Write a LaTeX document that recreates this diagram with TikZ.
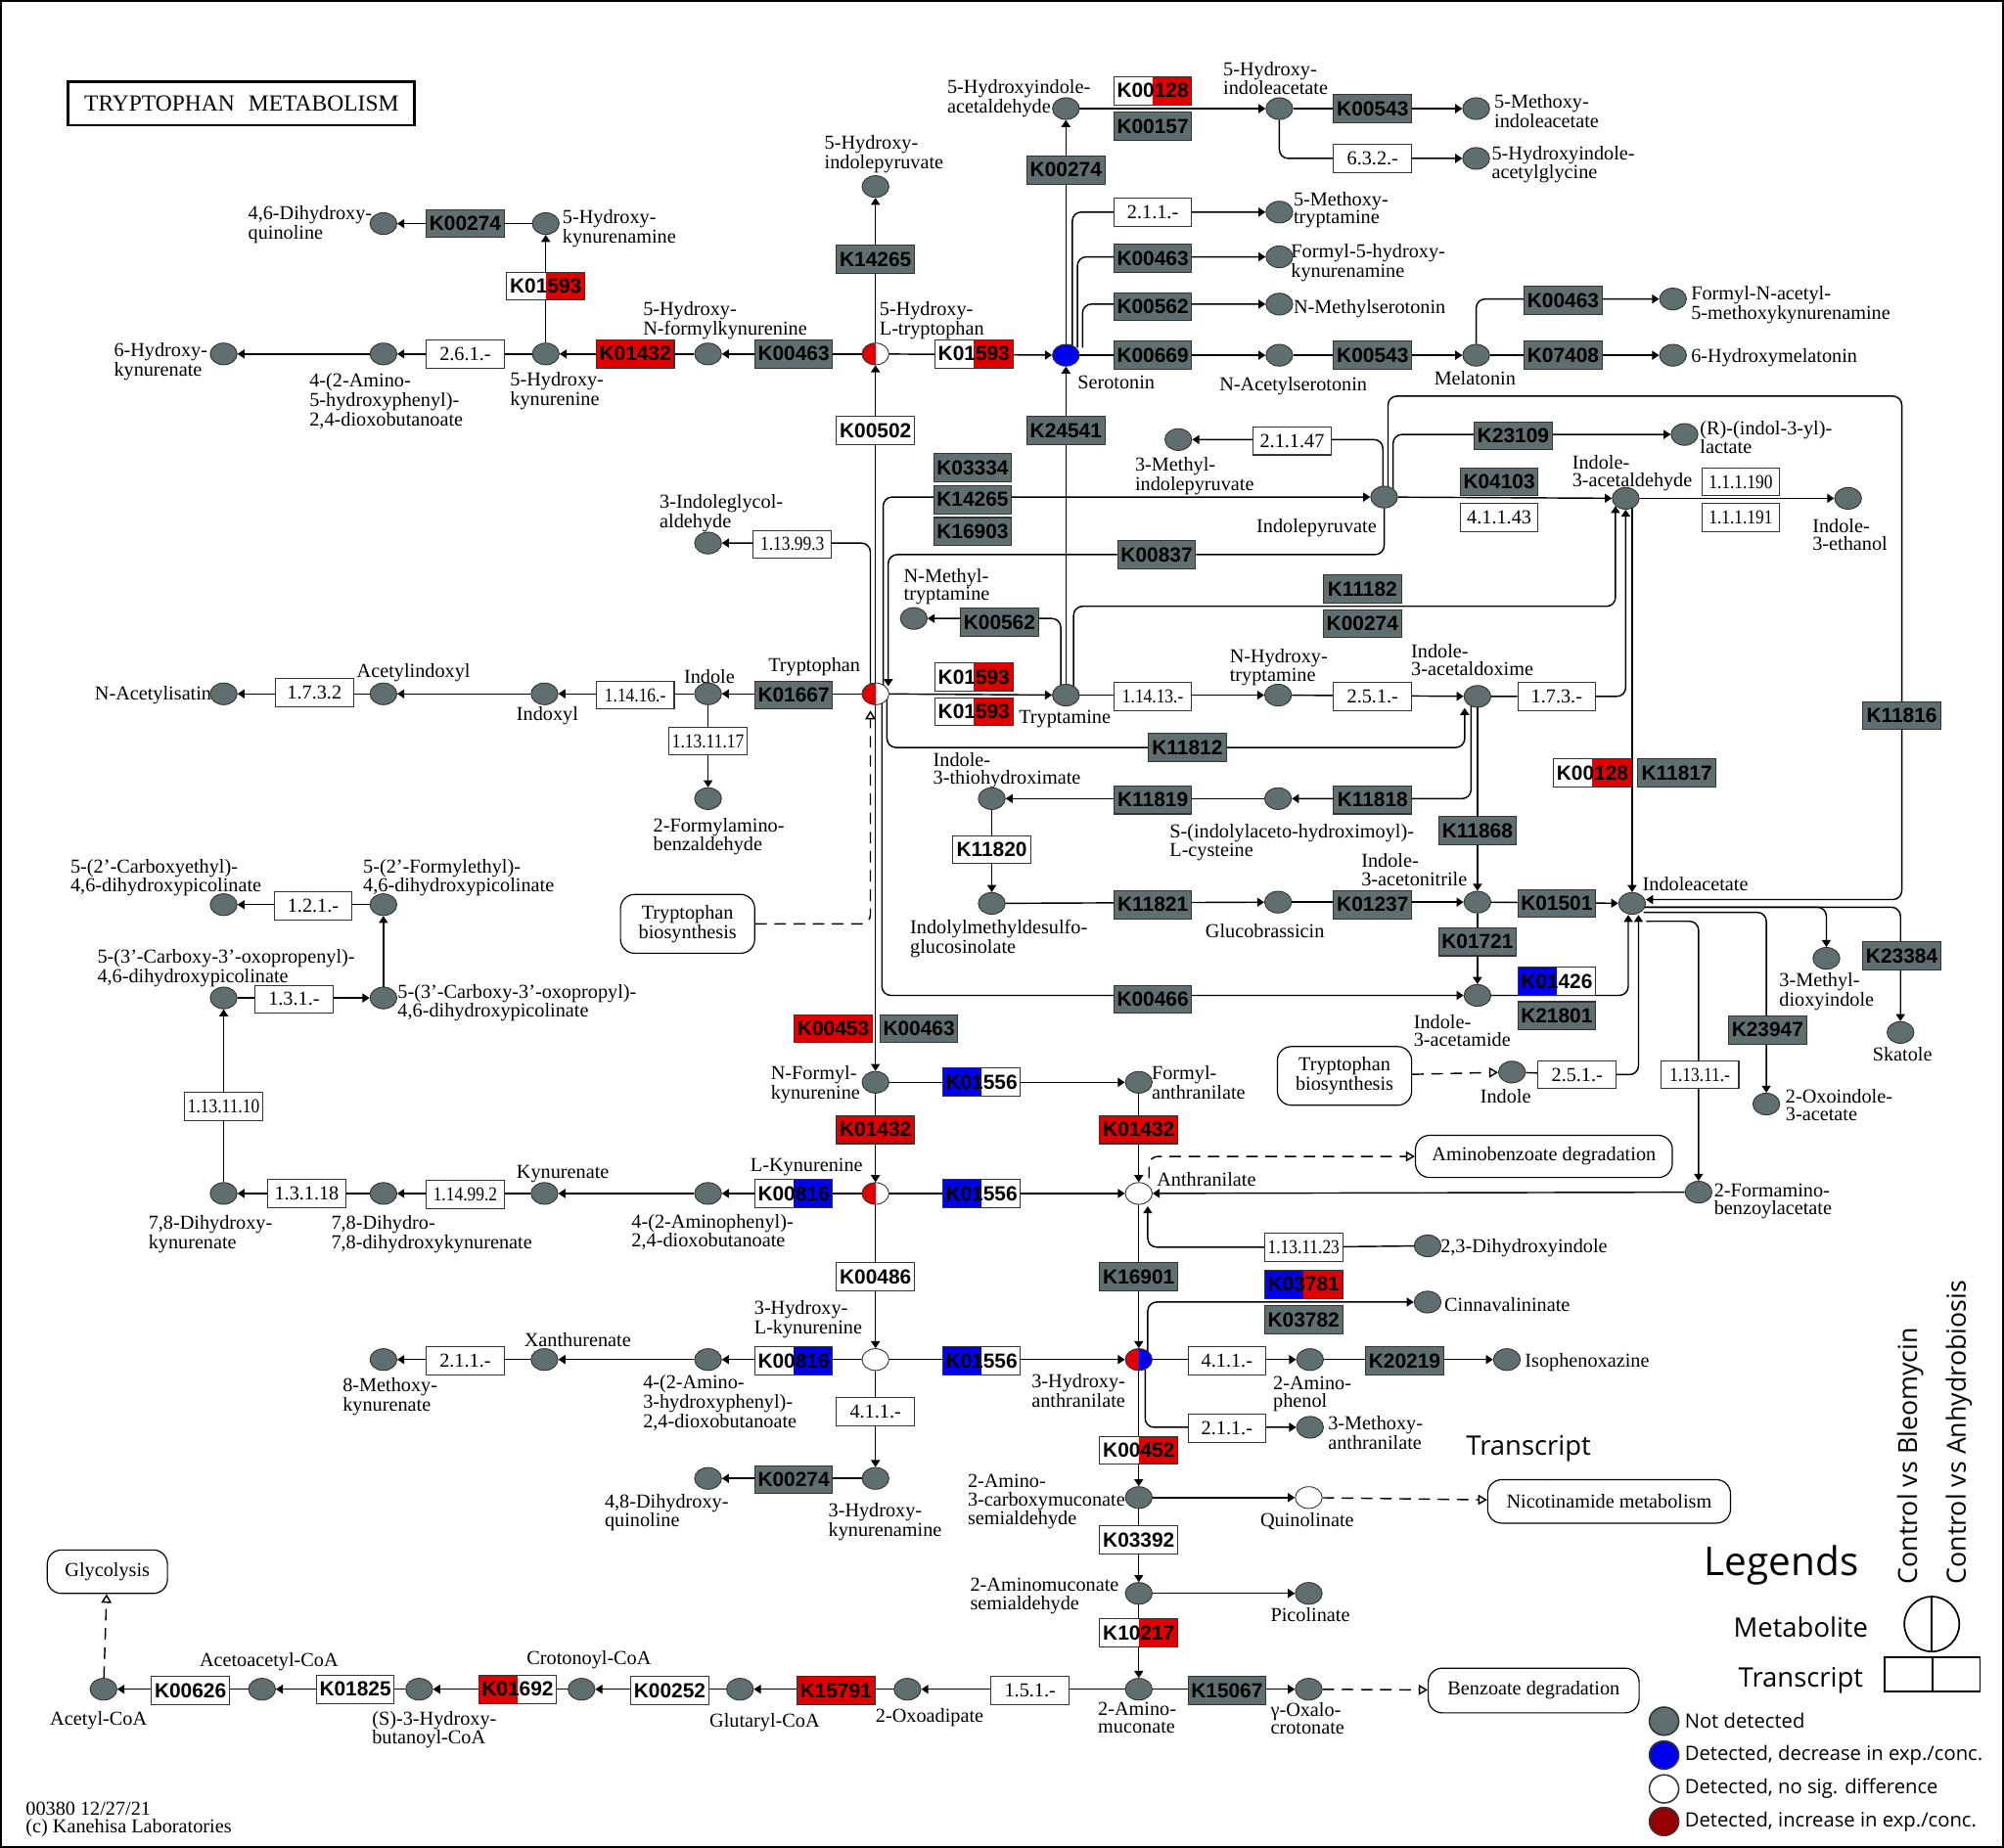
\documentclass[tikz,border=0pt]{standalone}
\usepackage{fontspec}
\setmainfont{Liberation Serif}
\newfontfamily\kfamily{Liberation Sans}
\newfontfamily\lgfamily{Open Sans}
\newfontfamily\ecnarrow{Liberation Serif}[FakeStretch=0.86]
\usepackage{xcolor}
\usepackage{tikz}
\usetikzlibrary{shapes.geometric,arrows.meta,positioning,calc}

\definecolor{ndgray}{RGB}{95,110,110}
\definecolor{upred}{RGB}{225,0,0}
\definecolor{dnblue}{RGB}{0,0,235}
\definecolor{lgred}{RGB}{150,0,0}

\newcommand{\lbfont}{\fontsize{15.5}{14}\selectfont}
\newcommand{\kfont}{\fontsize{16}{16}\kfamily\bfseries}
\newcommand{\ecfont}{\fontsize{15.5}{15.5}\selectfont}
\newcommand{\ecsmall}{\fontsize{15.5}{15.5}\ecnarrow}
\newcommand{\lgfont}[1]{\fontsize{#1}{#1}\lgfamily}

\pgfdeclarelayer{bg}
\pgfsetlayers{bg,main}

\begin{document}
\begin{tikzpicture}[x=1pt, y=-1pt,
    every node/.style={inner sep=0pt},
    cpd/.style={ellipse, draw=black!80, line width=0.7pt, fill=ndgray, minimum width=21pt, minimum height=17pt},
    cpdsplit/.style 2 args={cpd, path picture={
        \fill[#1] (path picture bounding box.south west) rectangle (path picture bounding box.north);
        \fill[#2] (path picture bounding box.south) rectangle (path picture bounding box.north east);}},
    kbox/.style={rectangle, draw=black!80, line width=0.8pt, fill=ndgray, minimum width=61pt, minimum height=22pt, font=\kfont},
    wbox/.style={kbox, fill=white},
    rbox/.style={kbox, fill=upred},
    ksplit/.style 2 args={kbox, path picture={
        \fill[#1] (path picture bounding box.south west) rectangle (path picture bounding box.north);
        \fill[#2] (path picture bounding box.south) rectangle (path picture bounding box.north east);}},
    ecbox/.style={kbox, fill=white, font=\ecfont},
    ecsm/.style={ecbox, font=\ecsmall},
    lbl/.style={font=\lbfont, align=left},
    mapbox/.style={rectangle, draw, line width=0.9pt, rounded corners=11pt, align=center, font=\lbfont},
    lnk/.style={line width=1.1pt},
    rxn/.style={lnk, -{Triangle[length=5.5pt,width=7pt]}},
    maplink/.style={lnk, dash pattern=on 9pt off 6pt, -{Triangle[open,length=7pt,width=8pt]}},
    rnd/.style={rounded corners=7pt}
]
\useasboundingbox (0,0) rectangle (1568,1446);
\draw[line width=1.6pt] (0.8,0.8) rectangle (1567.2,1445.2);

% Title
\node[draw, line width=2.2pt, minimum width=271pt, minimum height=34pt, font=\fontsize{18}{18}\selectfont] (title) at (189,81) {TRYPTOPHAN\hspace{0.6em}METABOLISM};
\node[lbl, anchor=north west] (foot) at (20,1410) {00380 12/27/21\\(c) Kanehisa Laboratories};

% Compound names
\node[lbl, anchor=north west] (t5hial) at (741,62) {5-Hydroxyindole-\\acetaldehyde};
\node[lbl, anchor=north west] (t5hiaa) at (957,48) {5-Hydroxy-\\indoleacetate};
\node[lbl, anchor=north west] (t5mia) at (1169,74) {5-Methoxy-\\indoleacetate};
\node[lbl, anchor=north west] (t5hiag) at (1167,114) {5-Hydroxyindole-\\acetylglycine};
\node[lbl, anchor=north west] (t5mt) at (1012,150) {5-Methoxy-\\tryptamine};
\node[lbl, anchor=north west] (tf5hk) at (1010,191) {Formyl-5-hydroxy-\\kynurenamine};
\node[lbl, anchor=west] (tnms) at (1012,242) {N-Methylserotonin};
\node[lbl, anchor=north west] (tser) at (843,294) {Serotonin};
\node[lbl, anchor=north west] (tnas) at (954,295) {N-Acetylserotonin};
\node[lbl, anchor=north west] (tmel) at (1122,290) {Melatonin};
\node[lbl, anchor=north west] (tfnam) at (1323,224) {Formyl-N-acetyl-\\5-methoxykynurenamine};
\node[lbl, anchor=west] (t6hm) at (1323,280) {6-Hydroxymelatonin};
\node[lbl, anchor=north west] (t46dq) at (194,161) {4,6-Dihydroxy-\\quinoline};
\node[lbl, anchor=north west] (t5hka) at (440,164) {5-Hydroxy-\\kynurenamine};
\node[lbl, anchor=north west] (t6hk) at (89,268) {6-Hydroxy-\\kynurenate};
\node[lbl, anchor=north west] (t4a5h) at (242,292) {4-(2-Amino-\\5-hydroxyphenyl)-\\2,4-dioxobutanoate};
\node[lbl, anchor=north west] (t5hk) at (399,291) {5-Hydroxy-\\kynurenine};
\node[lbl, anchor=north west] (t5hnfk) at (503,236) {5-Hydroxy-\\N-formylkynurenine};
\node[lbl, anchor=north west] (t5htp) at (688,236) {5-Hydroxy-\\L-tryptophan};
\node[lbl, anchor=north west] (t5hip) at (645,106) {5-Hydroxy-\\indolepyruvate};
\node[lbl, anchor=north west] (tigl) at (516,387) {3-Indoleglycol-\\aldehyde};
\node[lbl, anchor=north west] (tmip) at (888,358) {3-Methyl-\\indolepyruvate};
\node[lbl, anchor=north west] (tipyr) at (983,406) {Indolepyruvate};
\node[lbl, anchor=north west] (trlac) at (1330,329) {(R)-(indol-3-yl)-\\lactate};
\node[lbl, anchor=north west] (tiald) at (1230,356) {Indole-\\3-acetaldehyde};
\node[lbl, anchor=north west] (tiet) at (1418,406) {Indole-\\3-ethanol};
\node[lbl, anchor=north west] (tnmt) at (707,445) {N-Methyl-\\tryptamine};
\node[lbl, anchor=west] (tnai) at (74,544) {N-Acetylisatin};
\node[lbl, anchor=north west] (tacx) at (279,519) {Acetylindoxyl};
\node[lbl, anchor=north west] (tinx) at (404,553) {Indoxyl};
\node[lbl, anchor=south] (tind) at (555,535) {Indole};
\node[lbl, anchor=north west] (ttrp) at (601,515) {Tryptophan};
\node[lbl, anchor=north west] (ttra) at (797,556) {Tryptamine};
\node[lbl, anchor=north west] (tfab) at (511,640) {2-Formylamino-\\benzaldehyde};
\node[lbl, anchor=north west] (tnht) at (962,508) {N-Hydroxy-\\tryptamine};
\node[lbl, anchor=north west] (tiaox) at (1104,504) {Indole-\\3-acetaldoxime};
\node[lbl, anchor=north west] (tith) at (730,589) {Indole-\\3-thiohydroximate};
\node[lbl, anchor=north west] (tsic) at (915,645) {S-(indolylaceto-hydroximoyl)-\\L-cysteine};
\node[lbl, anchor=north west] (timd) at (712,720) {Indolylmethyldesulfo-\\glucosinolate};
\node[lbl, anchor=north west] (tgb) at (943,723) {Glucobrassicin};
\node[lbl, anchor=north west] (tian) at (1065,668) {Indole-\\3-acetonitrile};
\node[lbl, anchor=north west] (tiaa) at (1285,686) {Indoleacetate};
\node[lbl, anchor=north west] (tiam) at (1106,794) {Indole-\\3-acetamide};
\node[lbl, anchor=north west] (tmdi) at (1392,761) {3-Methyl-\\dioxyindole};
\node[lbl, anchor=north west] (tskat) at (1465,819) {Skatole};
\node[lbl, anchor=north west] (toxi) at (1397,852) {2-Oxoindole-\\3-acetate};
\node[lbl, anchor=north west] (tfba) at (1341,926) {2-Formamino-\\benzoylacetate};
\node[lbl, anchor=north west] (tind2) at (1158,852) {Indole};
\node[lbl, anchor=north west] (t2ce) at (55,672) {5-(2'-Carboxyethyl)-\\4,6-dihydroxypicolinate};
\node[lbl, anchor=north west] (t2fe) at (284,672) {5-(2'-Formylethyl)-\\4,6-dihydroxypicolinate};
\node[lbl, anchor=north west] (t3cope) at (76,743) {5-(3'-Carboxy-3'-oxopropenyl)-\\4,6-dihydroxypicolinate};
\node[lbl, anchor=north west] (t3cop) at (311,770) {5-(3'-Carboxy-3'-oxopropyl)-\\4,6-dihydroxypicolinate};
\node[lbl, anchor=north west] (t78dk) at (116,951) {7,8-Dihydroxy-\\kynurenate};
\node[lbl, anchor=north west] (t78dd) at (259,951) {7,8-Dihydro-\\7,8-dihydroxykynurenate};
\node[lbl, anchor=north west] (tkyna) at (404,912) {Kynurenate};
\node[lbl, anchor=north west] (t2apd) at (494,950) {4-(2-Aminophenyl)-\\2,4-dioxobutanoate};
\node[lbl, anchor=north west] (tlkyn) at (587,906) {L-Kynurenine};
\node[lbl, anchor=north west] (tnfk) at (603,834) {N-Formyl-\\kynurenine};
\node[lbl, anchor=north west] (tfant) at (901,834) {Formyl-\\anthranilate};
\node[lbl, anchor=north west] (tant) at (905,917) {Anthranilate};
\node[lbl, anchor=west] (t23dhi) at (1127,977) {2,3-Dihydroxyindole};
\node[lbl, anchor=north west] (txan) at (410,1043) {Xanthurenate};
\node[lbl, anchor=north west] (t8mk) at (268,1078) {8-Methoxy-\\kynurenate};
\node[lbl, anchor=north west] (t23ahd) at (503,1076) {4-(2-Amino-\\3-hydroxyphenyl)-\\2,4-dioxobutanoate};
\node[lbl, anchor=north west] (t3hk) at (590,1018) {3-Hydroxy-\\L-kynurenine};
\node[lbl, anchor=north west] (t3haa) at (807,1075) {3-Hydroxy-\\anthranilate};
\node[lbl, anchor=west] (tcinn) at (1130,1021) {Cinnavalininate};
\node[lbl, anchor=north west] (t2ap) at (996,1077) {2-Amino-\\phenol};
\node[lbl, anchor=west] (tiso) at (1193,1066) {Isophenoxazine};
\node[lbl, anchor=north west] (t3ma) at (1039,1108) {3-Methoxy-\\anthranilate};
\node[lbl, anchor=north west] (t48dq) at (473,1169) {4,8-Dihydroxy-\\quinoline};
\node[lbl, anchor=north west] (t3hka) at (648,1176) {3-Hydroxy-\\kynurenamine};
\node[lbl, anchor=north west] (tacms) at (757,1154) {2-Amino-\\3-carboxymuconate\\semialdehyde};
\node[lbl, anchor=north west] (tquin) at (986,1184) {Quinolinate};
\node[lbl, anchor=north west] (tamsa) at (759,1235) {2-Aminomuconate\\semialdehyde};
\node[lbl, anchor=north west] (tpic) at (994,1258) {Picolinate};
\node[lbl, anchor=north west] (tamu) at (859,1332) {2-Amino-\\muconate};
\node[lbl, anchor=north west] (toxc) at (994,1332) {γ-Oxalo-\\crotonate};
\node[lbl, anchor=north west] (toxa) at (685,1337) {2-Oxoadipate};
\node[lbl, anchor=north west] (tglu) at (555,1341) {Glutaryl-CoA};
\node[lbl, anchor=north west] (tcro) at (412,1292) {Crotonoyl-CoA};
\node[lbl, anchor=north west] (t3hb) at (291,1339) {(S)-3-Hydroxy-\\butanoyl-CoA};
\node[lbl, anchor=north west] (taca) at (156,1293) {Acetoacetyl-CoA};
\node[lbl, anchor=north west] (tacoa) at (39,1339) {Acetyl-CoA};

% Compounds
\node[cpd] (c5hial) at (834,85) {};
\node[cpd] (c5hiaa) at (1001,85) {};
\node[cpd] (c5mia) at (1155,85) {};
\node[cpd] (c5hiag) at (1155,124) {};
\node[cpd] (c5mt) at (1001,166) {};
\node[cpd] (cf5hk) at (1001,201) {};
\node[cpd] (cnms) at (1001,238) {};
\node[cpd, fill=dnblue] (cser) at (834,278) {};
\node[cpd] (cnas) at (1001,278) {};
\node[cpd] (cmel) at (1155,278) {};
\node[cpd] (cfnam) at (1309,234) {};
\node[cpd] (c6hm) at (1309,278) {};
\node[cpd] (c46dq) at (300,175) {};
\node[cpd] (c5hka) at (427,175) {};
\node[cpd] (c6hk) at (175,277) {};
\node[cpd] (c4a5h) at (300,277) {};
\node[cpd] (c5hk) at (427,277) {};
\node[cpd] (c5hnfk) at (554,277) {};
\node[cpdsplit={upred}{white}] (c5htp) at (685,277) {};
\node[cpd] (c5hip) at (685,146) {};
\node[cpd] (cigl) at (554,425) {};
\node[cpd] (cmip) at (922,344) {};
\node[cpd] (cipyr) at (1083,389) {};
\node[cpd] (crlac) at (1318,340) {};
\node[cpd] (ciald) at (1272,390) {};
\node[cpd] (ciet) at (1446,390) {};
\node[cpd] (cnmt) at (715,484) {};
\node[cpd] (cnai) at (175,543) {};
\node[cpd] (cacx) at (300,543) {};
\node[cpd] (cinx) at (426,543) {};
\node[cpd] (cind) at (554,543) {};
\node[cpdsplit={upred}{white}] (ctrp) at (685,543) {};
\node[cpd] (ctra) at (834,544) {};
\node[cpd] (cnht) at (1000,544) {};
\node[cpd] (ciaox) at (1156,545) {};
\node[cpd] (cfab) at (554,625) {};
\node[cpd] (cith) at (776,625) {};
\node[cpd] (csic) at (1000,625) {};
\node[cpd] (cimd) at (776,707) {};
\node[cpd] (cgb) at (1000,706) {};
\node[cpd] (cian) at (1156,706) {};
\node[cpd] (ciaa) at (1277,707) {};
\node[cpd] (ciam) at (1156,779) {};
\node[cpd] (cmdi) at (1429,750) {};
\node[cpd] (cskat) at (1487,808) {};
\node[cpd] (coxi) at (1382,864) {};
\node[cpd] (cfba) at (1329,933) {};
\node[cpd] (cind2) at (1183,839) {};
\node[cpd] (c2ce) at (175,708) {};
\node[cpd] (c2fe) at (300,708) {};
\node[cpd] (c3cope) at (175,781) {};
\node[cpd] (c3cop) at (300,781) {};
\node[cpd] (c78dk) at (175,934) {};
\node[cpd] (c78dd) at (300,934) {};
\node[cpd] (ckyna) at (426,934) {};
\node[cpd] (c2apd) at (554,934) {};
\node[cpdsplit={upred}{white}] (clkyn) at (685,934) {};
\node[cpd] (cnfk) at (685,847) {};
\node[cpd] (cfant) at (891,847) {};
\node[cpd, fill=white] (cant) at (891,934) {};
\node[cpd] (c8mk) at (300,1064) {};
\node[cpd] (cxan) at (426,1064) {};
\node[cpd] (c23ahd) at (554,1064) {};
\node[cpd, fill=white] (c3hk) at (685,1064) {};
\node[cpdsplit={upred}{dnblue}] (c3haa) at (891,1064) {};
\node[cpd] (c48dq) at (554,1157) {};
\node[cpd] (c3hka) at (685,1157) {};
\node[cpd] (c23dhi) at (1117,975) {};
\node[cpd] (ccinn) at (1117,1019) {};
\node[cpd] (c2ap) at (1025,1064) {};
\node[cpd] (ciso) at (1179,1064) {};
\node[cpd] (c3ma) at (1025,1117) {};
\node[cpd] (cacms) at (891,1172) {};
\node[cpd, fill=white] (cquin) at (1024,1172) {};
\node[cpd] (camsa) at (891,1247) {};
\node[cpd] (cpic) at (1024,1247) {};
\node[cpd] (camu) at (891,1322) {};
\node[cpd] (coxc) at (1024,1322) {};
\node[cpd] (coxa) at (710,1322) {};
\node[cpd] (cglu) at (579,1322) {};
\node[cpd] (ccro) at (455,1322) {};
\node[cpd] (c3hb) at (328,1322) {};
\node[cpd] (caca) at (205,1322) {};
\node[cpd] (cacoa) at (81,1322) {};

% Enzymes
\node[ksplit={white}{upred}] (k128a) at (902,71) {K00128};
\node[kbox] (k157) at (902,99) {K00157};
\node[kbox] (k274a) at (834,133) {K00274};
\node[kbox] (k543a) at (1074,85) {K00543};
\node[ecbox] (ec632) at (1074,124) {6.3.2.-};
\node[ecbox] (ec211a) at (902,166) {2.1.1.-};
\node[kbox] (k463a) at (902,202) {K00463};
\node[kbox] (k562a) at (902,240) {K00562};
\node[kbox] (k669) at (902,278) {K00669};
\node[kbox] (k543b) at (1074,278) {K00543};
\node[kbox] (k463b) at (1223,235) {K00463};
\node[kbox] (k7408) at (1223,278) {K07408};
\node[kbox] (k24541) at (834,337) {K24541};
\node[kbox] (k274b) at (364,175) {K00274};
\node[ksplit={white}{upred}] (k593a) at (427,224) {K01593};
\node[ecbox] (ec261) at (364,277) {2.6.1.-};
\node[rbox] (k1432a) at (497,277) {K01432};
\node[kbox] (k463c) at (621,277) {K00463};
\node[ksplit={white}{upred}] (k593b) at (762,277) {K01593};
\node[kbox] (k14265a) at (685,203) {K14265};
\node[wbox] (k502) at (685,337) {K00502};
\node[ecsm] (ec113993) at (620,426) {1.13.99.3};
\node[kbox] (k3334) at (761,366) {K03334};
\node[kbox] (k14265b) at (761,391) {K14265};
\node[kbox] (k16903) at (761,416) {K16903};
\node[kbox] (k837) at (905,434) {K00837};
\node[kbox] (k562b) at (782,487) {K00562};
\node[ecbox] (ec2147) at (1011,345) {2.1.1.47};
\node[kbox] (k23109) at (1184,341) {K23109};
\node[kbox] (k4103) at (1173,377) {K04103};
\node[ecbox] (ec41143) at (1173,405) {4.1.1.43};
\node[ecsm] (ec111190) at (1362,377) {1.1.1.190};
\node[ecsm] (ec111191) at (1362,405) {1.1.1.191};
\node[kbox] (k11182) at (1066,461) {K11182};
\node[kbox] (k274c) at (1066,488) {K00274};
\node[ecbox] (ec1732) at (246,542) {1.7.3.2};
\node[ecsm] (ec11416) at (497,544) {1.14.16.-};
\node[kbox] (k1667) at (621,544) {K01667};
\node[ecsm] (ec1131117) at (554,580) {1.13.11.17};
\node[ksplit={white}{upred}] (k593c) at (762,530) {K01593};
\node[ksplit={white}{upred}] (k593d) at (762,557) {K01593};
\node[ecsm] (ec11413) at (902,545) {1.14.13.-};
\node[ecbox] (ec251a) at (1074,545) {2.5.1.-};
\node[ecbox] (ec173) at (1218,545) {1.7.3.-};
\node[kbox] (k11812) at (929,585) {K11812};
\node[kbox] (k11819) at (902,626) {K11819};
\node[kbox] (k11818) at (1074,626) {K11818};
\node[wbox] (k11820) at (776,665) {K11820};
\node[kbox] (k11821) at (902,708) {K11821};
\node[kbox] (k1237) at (1074,708) {K01237};
\node[kbox] (k11868) at (1156,650) {K11868};
\node[kbox] (k1501) at (1218,707) {K01501};
\node[kbox] (k1721) at (1156,737) {K01721};
\node[kbox] (k466) at (902,782) {K00466};
\node[ksplit={dnblue}{white}] (k1426) at (1218,768) {K01426};
\node[kbox] (k21801) at (1218,795) {K21801};
\node[ksplit={white}{upred}] (k128b) at (1246,605) {K00128};
\node[kbox] (k11817) at (1312,605) {K11817};
\node[kbox] (k11816) at (1488,560) {K11816};
\node[kbox] (k23384) at (1488,748) {K23384};
\node[kbox] (k23947) at (1383,806) {K23947};
\node[ecsm] (ec11311) at (1330,841) {1.13.11.-};
\node[ecbox] (ec251b) at (1234,841) {2.5.1.-};
\node[ecbox] (ec121) at (245,709) {1.2.1.-};
\node[ecbox] (ec131) at (230,782) {1.3.1.-};
\node[ecsm] (ec1131110) at (175,866) {1.13.11.10};
\node[ecbox] (ec13118) at (240,934) {1.3.1.18};
\node[ecsm] (ec114992) at (364,935) {1.14.99.2};
\node[rbox] (k453) at (652,805) {K00453};
\node[kbox] (k463d) at (719,805) {K00463};
\node[rbox] (k1432b) at (685,884) {K01432};
\node[ksplit={dnblue}{white}] (k1556a) at (768,847) {K01556};
\node[rbox] (k1432c) at (891,884) {K01432};
\node[ksplit={white}{dnblue}] (k816a) at (621,934) {K00816};
\node[ksplit={dnblue}{white}] (k1556b) at (768,934) {K01556};
\node[ecsm] (ec1131123) at (1020,976) {1.13.11.23};
\node[wbox] (k486) at (685,999) {K00486};
\node[kbox] (k16901) at (891,999) {K16901};
\node[ecbox] (ec211b) at (364,1065) {2.1.1.-};
\node[ksplit={white}{dnblue}] (k816b) at (621,1065) {K00816};
\node[ksplit={dnblue}{white}] (k1556c) at (768,1065) {K01556};
\node[ecbox] (ec411a) at (685,1105) {4.1.1.-};
\node[kbox] (k274d) at (621,1158) {K00274};
\node[ksplit={dnblue}{upred}] (k3781) at (1020,1005) {K03781};
\node[kbox] (k3782) at (1020,1033) {K03782};
\node[ecbox] (ec411b) at (960,1065) {4.1.1.-};
\node[kbox] (k20219) at (1099,1065) {K20219};
\node[ecbox] (ec211c) at (960,1118) {2.1.1.-};
\node[ksplit={white}{upred}] (k452) at (891,1135) {K00452};
\node[wbox] (k3392) at (891,1205) {K03392};
\node[ksplit={white}{upred}] (k10217) at (891,1278) {K10217};
\node[kbox] (k15067) at (960,1323) {K15067};
\node[ecbox] (ec151) at (806,1323) {1.5.1.-};
\node[rbox] (k15791) at (654,1323) {K15791};
\node[wbox] (k252) at (524,1323) {K00252};
\node[ksplit={upred}{white}] (k1692) at (405,1322) {K01692};
\node[wbox] (k1825) at (278,1322) {K01825};
\node[wbox] (k626) at (149,1323) {K00626};

% Maps
\node[mapbox, minimum width=105pt, minimum height=46pt] (mtrp1) at (538,723) {Tryptophan\\biosynthesis};
\node[mapbox, minimum width=105pt, minimum height=46pt] (mtrp2) at (1052,842) {Tryptophan\\biosynthesis};
\node[mapbox, minimum width=201pt, minimum height=33pt] (mabd) at (1208,905) {Aminobenzoate degradation};
\node[mapbox, minimum width=190pt, minimum height=34pt] (mnic) at (1259,1175) {Nicotinamide metabolism};
\node[mapbox, minimum width=165pt, minimum height=35pt] (mbzd) at (1200,1323) {Benzoate degradation};
\node[mapbox, minimum width=94pt, minimum height=34pt] (mgly) at (84,1230) {Glycolysis};

% Reactions
\begin{pgfonlayer}{bg}
\draw[rxn] (cser) -- (c5hial);
\draw[rxn] (c5hial) -- (c5hiaa);
\draw[rxn] (c5hiaa) -- (c5mia);
\draw[rxn, rnd] (c5hiaa) |- (c5hiag);
\draw[rxn, rnd] ($(cser.center)+(5,-6)$) |- (c5mt);
\draw[rxn, rnd] ($(cser.center)+(9,-6)$) |- (cf5hk);
\draw[rxn, rnd] ($(cser.center)+(13,-6)$) |- (cnms);
\draw[rxn] (cser) -- (cnas);
\draw[rxn] (cnas) -- (cmel);
\draw[rxn] (cmel) -- (c6hm);
\draw[rxn, rnd] (cmel) |- (cfnam);
\draw[rxn] (ctra) -- (cser);
\draw[rxn] (c5htp) -- (cser);
\draw[rxn] (ctrp) -- (c5htp);
\draw[rxn] (c5htp) -- (c5hip);
\draw[rxn] (c5htp) -- (c5hnfk);
\draw[rxn] (c5hnfk) -- (c5hk);
\draw[rxn] (c5hk) -- (c4a5h);
\draw[rxn] (c4a5h) -- (c6hk);
\draw[rxn] (c5hk) -- (c5hka);
\draw[rxn] (c5hka) -- (c46dq);

\draw[rxn, rnd] ($(ctrp.center)+(-4,0)$) |- (cigl);
\draw[rxn, rnd] ($(ctrp.center)+(6,0)$) |- (cipyr);
\draw[rxn, rnd] (cipyr) |- (k837) -| ($(ctrp.center)+(10,-6)$);
\draw[rxn] (ctrp) -- (cind);
\draw[rxn] (cind) -- (cinx);
\draw[rxn] (cinx) -- (cacx);
\draw[rxn] (cacx) -- (cnai);
\draw[rxn] (cind) -- (cfab);
\draw[rxn] (ctrp) -- (ctra);
\draw[rxn, rnd] ($(ctra.center)+(-4,0)$) |- (cnmt);
\draw[rxn, rnd] ($(ctra.center)+(6,0)$) |- ($(k11182)!0.5!(k274c)$) -| ($(ciald.center)+(-8,6)$);
\draw[rxn, rnd] ($(cipyr.center)+(-1,0)$) |- (cmip);
\draw[rxn, rnd] ($(cipyr.center)+(3,0)$) |- ($(k11816.center)+(0,-250)$) |- ($(ciaa.east)+(0,-3)$);
\draw[rxn, rnd] ($(cipyr.center)+(7,0)$) |- (crlac);
\draw[rxn] (cipyr) -- (ciald);
\draw[rxn] (ciald) -- (ciet);
\draw[rxn] (ctra) -- (cnht);
\draw[rxn] (cnht) -- (ciaox);
\draw[rxn, rnd] (ciaox) -- (ec173) -| (ciald);
\draw[rxn, rnd] ($(ctrp.center)+(9,0)$) |- (k11812) -| ($(ciaox.center)+(-10,9)$);
\draw[rxn, rnd] ($(ciaox.center)+(-5,0)$) |- (csic);
\draw[rxn] (csic) -- (cith);
\draw[rxn] (cith) -- (cimd);
\draw[rxn] (cimd) -- (cgb);
\draw[rxn] (cgb) -- (cian);
\draw[rxn] (ciaox) -- (cian);
\draw[rxn] (cian) -- (ciaa);
\draw[rxn] (cian) -- (ciam);
\draw[rxn, rnd] ($(ctrp.center)+(5,0)$) |- (ciam);
\draw[rxn, rnd] (ciam) -| ($(ciaa.center)+(-3,9)$);
\draw[rxn] ($(ciald.center)+(5,0)$) -- (ciaa);
\draw[rxn, rnd] (cind2) -- (ec251b) -| ($(ciaa.center)+(5,9)$);
\draw[maplink] (mtrp2) -- (cind2);
\draw[rxn, rnd] ($(ciaa.center)+(9,3)$) -| (cmdi);
\draw[rxn, rnd] ($(ciaa.center)+(9,3)$) -| (cskat);
\draw[rxn, rnd] ($(ciaa.center)+(9,7)$) -| (coxi);
\draw[rxn, rnd] ($(ciaa.center)+(11,14)$) -| (cfba);
\draw[rxn] (cfba) -- (cant);
\draw[maplink, rnd] ($(cant.center)+(8,-12)$) |- (mabd);

\draw[rxn] (ctrp) -- (cnfk);
\draw[maplink, rnd] (mtrp1) -| ($(ctrp.center)+(-4,13)$);
\draw[rxn] (cnfk) -- (clkyn);
\draw[rxn] (cnfk) -- (cfant);
\draw[rxn] (cfant) -- (cant);
\draw[rxn] (clkyn) -- (cant);
\draw[rxn] (clkyn) -- (c2apd);
\draw[rxn] (c2apd) -- (ckyna);
\draw[rxn] (ckyna) -- (c78dd);
\draw[rxn] (c78dd) -- (c78dk);
\draw[rxn] (c78dk) -- (c3cope);
\draw[rxn] (c3cope) -- (c3cop);
\draw[rxn] (c3cop) -- (c2fe);
\draw[rxn] (c2fe) -- (c2ce);
\draw[rxn] (clkyn) -- (c3hk);
\draw[rxn] (c3hk) -- (c23ahd);
\draw[rxn] (c23ahd) -- (cxan);
\draw[rxn] (cxan) -- (c8mk);
\draw[rxn] (c3hk) -- (c3haa);
\draw[rxn] (c3hk) -- (c3hka);
\draw[rxn] (c3hka) -- (c48dq);
\draw[rxn] (cant) -- (c3haa);
\draw[rxn, rnd] (c23dhi) -- (ec1131123) -| ($(cant.center)+(7,10)$);
\draw[rxn, rnd] ($(c3haa.center)+(7,0)$) |- (ccinn);
\draw[rxn] (c3haa) -- (c2ap);
\draw[rxn] (c2ap) -- (ciso);
\draw[rxn, rnd] ($(c3haa.center)+(5,0)$) |- (c3ma);
\draw[rxn] (c3haa) -- (cacms);
\draw[rxn] (cacms) -- (cquin);
\draw[maplink] (cquin) -- (mnic);
\draw[rxn] (cacms) -- (camsa);
\draw[rxn] (camsa) -- (cpic);
\draw[rxn] (camsa) -- (camu);
\draw[rxn] (camu) -- (coxc);
\draw[maplink] (coxc) -- (mbzd);
\draw[rxn] (camu) -- (coxa);
\draw[rxn] (coxa) -- (cglu);
\draw[rxn] (cglu) -- (ccro);
\draw[rxn] (ccro) -- (c3hb);
\draw[rxn] (c3hb) -- (caca);
\draw[rxn] (caca) -- (cacoa);
\draw[maplink] (cacoa) -- (mgly);
\end{pgfonlayer}

% Legend
\node[font={\lgfont{21}}] (ttrs) at (1196,1134) {Transcript};
\node[font={\lgfont{31}}, anchor=base] (tlgd) at (1394,1233) {Legends};
\node[font={\lgfont{21}}, anchor=base] (tlmet) at (1409,1281) {Metabolite};
\node[font={\lgfont{21}}, anchor=base] (tltrs) at (1409,1320) {Transcript};
\node[font={\lgfont{20.5}}, rotate=90, anchor=base west] (tlc1) at (1500,1240) {Control vs Bleomycin};
\node[font={\lgfont{20.5}}, rotate=90, anchor=base west] (tlc2) at (1538,1240) {Control vs Anhydrobiosis};
\node[ellipse, draw, line width=1.3pt, minimum width=43pt, minimum height=43pt] (lgmet) at (1511.5,1271) {};
\draw[line width=1.3pt] (lgmet.north) -- (lgmet.south);
\node[draw, line width=1.3pt, minimum width=74.5pt, minimum height=27pt] (lgtrs) at (1512,1310.5) {};
\draw[line width=1.3pt] (lgtrs.north) -- (lgtrs.south);
\node[cpd, minimum width=23pt, minimum height=22pt, line width=1.2pt] (lg1) at (1302,1347) {};
\node[cpd, fill=dnblue, minimum width=23pt, minimum height=22pt, line width=1.2pt] (lg2) at (1302,1373.5) {};
\node[cpd, fill=white, minimum width=23pt, minimum height=22pt, line width=1.2pt] (lg3) at (1302,1400) {};
\node[cpd, fill=lgred, minimum width=23pt, minimum height=22pt, line width=1.2pt] (lg4) at (1302,1425.5) {};
\node[font={\lgfont{15.5}}, anchor=west] (tl1) at (1318,1347) {Not detected};
\node[font={\lgfont{15.5}}, anchor=west] (tl2) at (1318,1373.5) {Detected, decrease in exp./conc.};
\node[font={\lgfont{15.5}}, anchor=west] (tl3) at (1318,1400) {Detected, no sig. difference};
\node[font={\lgfont{15.5}}, anchor=west] (tl4) at (1318,1425.5) {Detected, increase in exp./conc.};

\end{tikzpicture}
\end{document}
